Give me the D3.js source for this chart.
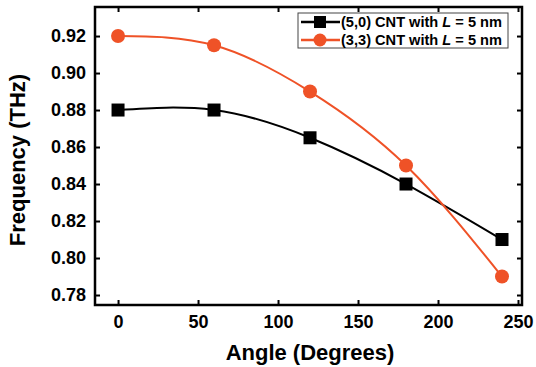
<!DOCTYPE html>
<html><head><meta charset="utf-8">
<script src="https://cdn.jsdelivr.net/npm/d3@7"></script>
<style>body{margin:0;background:#fff}svg{display:block}</style>
</head><body><svg id="c" width="536" height="367"></svg>
<script>
const angles = [0, 60, 120, 180, 240];
const cnt50 = [0.880, 0.880, 0.865, 0.840, 0.810];
const cnt33 = [0.920, 0.915, 0.890, 0.850, 0.790];
const xTicks = [0, 50, 100, 150, 200, 250];
const yTicks = [0.78, 0.80, 0.82, 0.84, 0.86, 0.88, 0.90, 0.92];
const seriesNames = ["(5,0) CNT with ", "(3,3) CNT with "];
const colors = ["#000000", "#EF5227"];

const svg = d3.select("#c");
const L = 95, R = 522, T = 7, B = 305;
const x = d3.scaleLinear().domain([-14.4, 252.5]).range([L, R]);
const y = d3.scaleLinear().domain([0.7746, 0.9357]).range([B, T]);
const font = "Arial, 'Liberation Sans', sans-serif";

// axes
const gx = svg.append("g").attr("transform", `translate(0,${B})`)
  .call(d3.axisBottom(x).tickValues(xTicks).tickSizeInner(-5).tickSizeOuter(0).tickPadding(10).tickFormat(d3.format("d")));
const gy = svg.append("g").attr("transform", `translate(${L},0)`)
  .call(d3.axisLeft(y).tickValues(yTicks).tickSizeInner(-5).tickSizeOuter(0).tickPadding(9).tickFormat(d3.format(".2f")));
const gt = svg.append("g").attr("transform", `translate(0,${T})`)
  .call(d3.axisTop(x).tickValues(xTicks).tickSizeInner(-5).tickSizeOuter(0).tickFormat(""));
const gr = svg.append("g").attr("transform", `translate(${R},0)`)
  .call(d3.axisRight(y).tickValues(yTicks).tickSizeInner(-5).tickSizeOuter(0).tickFormat(""));
[gx, gy, gt, gr].forEach(g => {
  g.select(".domain").remove();
  g.selectAll(".tick line").attr("stroke", "#000").attr("stroke-width", 2);
  g.selectAll(".tick text").attr("font-family", font).attr("font-weight", "bold")
    .attr("font-size", 18).attr("fill", "#000");
});
svg.append("rect").attr("x", L).attr("y", T).attr("width", R - L).attr("height", B - T)
  .attr("fill", "none").attr("stroke", "#000").attr("stroke-width", 2.5);

// lines
const line = d3.line().x(d => x(d[0])).y(d => y(d[1])).curve(d3.curveNatural);
const data = [cnt50, cnt33].map(s => angles.map((a, i) => [a, s[i]]));
data.forEach((d, k) => {
  svg.append("path").datum(d).attr("d", line).attr("fill", "none")
    .attr("stroke", colors[k]).attr("stroke-width", 2);
});
// markers
svg.append("g").selectAll("rect").data(data[0]).join("rect")
  .attr("x", d => x(d[0]) - 6.5).attr("y", d => y(d[1]) - 6.5)
  .attr("width", 13).attr("height", 13).attr("fill", colors[0]);
svg.append("g").selectAll("circle").data(data[1]).join("circle")
  .attr("cx", d => x(d[0])).attr("cy", d => y(d[1])).attr("r", 7).attr("fill", colors[1]);

// axis titles
svg.append("text").attr("x", 310).attr("y", 360).attr("text-anchor", "middle")
  .attr("font-family", font).attr("font-weight", "bold").attr("font-size", 22)
  .text("Angle (Degrees)");
svg.append("text").attr("transform", "translate(25,160) rotate(-90)").attr("text-anchor", "middle")
  .attr("font-family", font).attr("font-weight", "bold").attr("font-size", 22)
  .text("Frequency (THz)");

// legend
const lg = svg.append("g");
lg.append("rect").attr("x", 298).attr("y", 13).attr("width", 210).attr("height", 35)
  .attr("fill", "#fff").attr("stroke", "#444").attr("stroke-width", 1);
[22, 40].forEach((cy, k) => {
  lg.append("line").attr("x1", 301).attr("x2", 340).attr("y1", cy).attr("y2", cy)
    .attr("stroke", colors[k]).attr("stroke-width", 2.5);
  if (k === 0) lg.append("rect").attr("x", 314).attr("y", cy - 6).attr("width", 12).attr("height", 12).attr("fill", colors[0]);
  else lg.append("circle").attr("cx", 320).attr("cy", cy).attr("r", 6.5).attr("fill", colors[1]);
  const t = lg.append("text").attr("x", 341).attr("y", cy + 5).attr("font-family", font)
    .attr("font-weight", "bold").attr("font-size", 14.6).attr("fill", "#000");
  t.append("tspan").text(seriesNames[k]);
  t.append("tspan").attr("font-style", "italic").text("L");
  t.append("tspan").text(" = 5 nm");
});
</script></body></html>
